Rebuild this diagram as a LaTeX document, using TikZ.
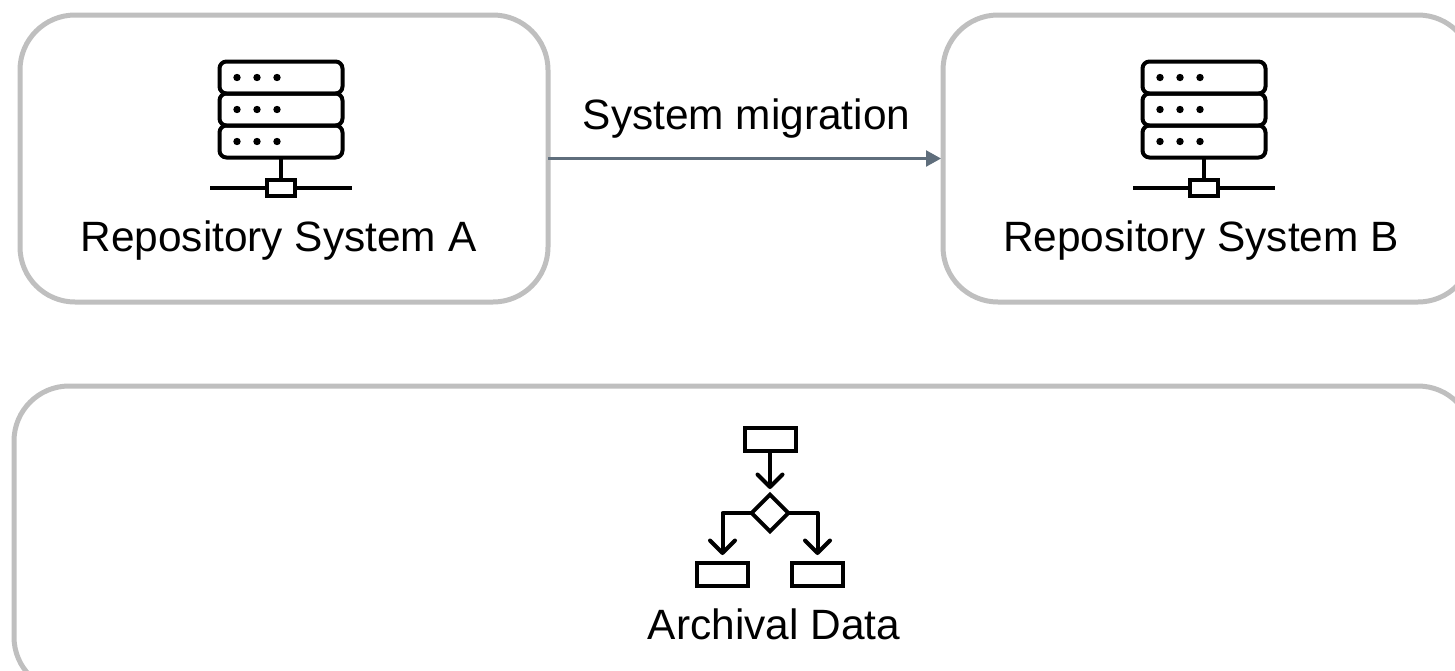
\documentclass[tikz,border=0pt]{standalone}
\usepackage{fontspec}
\setmainfont{Liberation Sans}
\usetikzlibrary{arrows.meta}
\tikzset{
  x=1pt,y=-1pt,
  panel/.style={draw=panelgrey,line width=5pt,rounded corners=55pt,outer sep=0pt,inner sep=0pt},
  label/.style={font=\fontsize{42.4}{46}\selectfont,text=black,inner sep=0pt,anchor=base},
  icon/.style={draw=black,line width=4pt,line join=round},
  unit/.style={draw=black,line width=4pt,rounded corners=7pt,minimum width=123pt,minimum height=32pt,inner sep=0pt,outer sep=0pt},
  tapbox/.style={draw=black,fill=white,line width=4pt,minimum width=28pt,minimum height=16pt,inner sep=0pt,outer sep=0pt},
  flowbox/.style={draw=black,fill=white,line width=4pt,minimum width=51pt,minimum height=23pt,inner sep=0pt,outer sep=0pt},
  flowdec/.style={draw=black,line width=4pt,line join=miter},
  dotmark/.style={circle,fill=black,minimum size=7.4pt,inner sep=0pt,outer sep=0pt},
  migrate/.style={draw=slatearrow,line width=2.4pt,shorten >=2pt,-{Triangle[length=15pt,width=16pt]}}
}
\definecolor{panelgrey}{HTML}{BFBFBF}
\definecolor{slatearrow}{HTML}{5F6E7C}
\newcommand{\servericon}[3]{%
  \node[unit] (#3u1) at (#1,#2-32) {};
  \node[unit] (#3u2) at (#1,#2) {};
  \node[unit] (#3u3) at (#1,#2+32) {};
  \foreach \r/\yy in {1/-32,2/0,3/32}{
    \foreach \c/\xx in {1/-44,2/-24,3/-4}{
      \node[dotmark] (#3d\r\c) at (#1+\xx,#2+\yy) {};
    }
  }
  \node[tapbox] (#3tap) at (#1,#2+78) {};
  \coordinate (#3l) at (#1-71,#2+78);
  \coordinate (#3r) at (#1+71,#2+78);
  \draw[icon] (#3u3.south) -- (#3tap.north);
  \draw[icon] (#3l) -- (#3tap.west);
  \draw[icon] (#3tap.east) -- (#3r);
}
\begin{document}
\begin{tikzpicture}
\useasboundingbox (0,0) rectangle (1455,670);
\clip (0,0) rectangle (1455,670);
\node[panel,minimum width=528pt,minimum height=287pt] (sysA) at (284,158.5) {};
\node[panel,minimum width=530pt,minimum height=287pt] (sysB) at (1208,158.5) {};
\node[panel,minimum width=1459pt,minimum height=306pt] (arch) at (743.5,539) {};
\draw[migrate] (sysA.east) -- (sysB.west);
\node[label] (migtext) at (746.5,129.5) {System migration};
\servericon{281}{109.5}{a}
\servericon{1204}{109.5}{b}
\node[label] (labA) at (278.5,251) {Repository System A};
\node[label] (labB) at (1201,251) {Repository System B};
\node[label] (labC) at (774,639) {Archival Data};
% flow icon
\node[flowbox] (ftop) at (770,439.5) {};
\node[flowbox] (fl) at (722.5,574.5) {};
\node[flowbox] (fr) at (817.5,574.5) {};
\node[flowdec,shape=rectangle,minimum size=26pt,rotate=45,inner sep=0pt,outer sep=0pt] (dec) at (770,513) {};
\coordinate (tipm) at (770,487);
\coordinate (tipl) at (722.5,553);
\coordinate (tipr) at (817.5,553);
\draw[icon] (ftop.south) -- (tipm);
\draw[icon] (dec.north west) -| (tipl);
\draw[icon] (dec.south east) -| (tipr);
\draw[icon,line cap=round] (tipm) ++(-12.5,-12.5) -- (tipm) -- ++(12.5,-12.5);
\draw[icon,line cap=round] (tipl) ++(-12.5,-12.5) -- (tipl) -- ++(12.5,-12.5);
\draw[icon,line cap=round] (tipr) ++(-12.5,-12.5) -- (tipr) -- ++(12.5,-12.5);
\end{tikzpicture}
\end{document}
